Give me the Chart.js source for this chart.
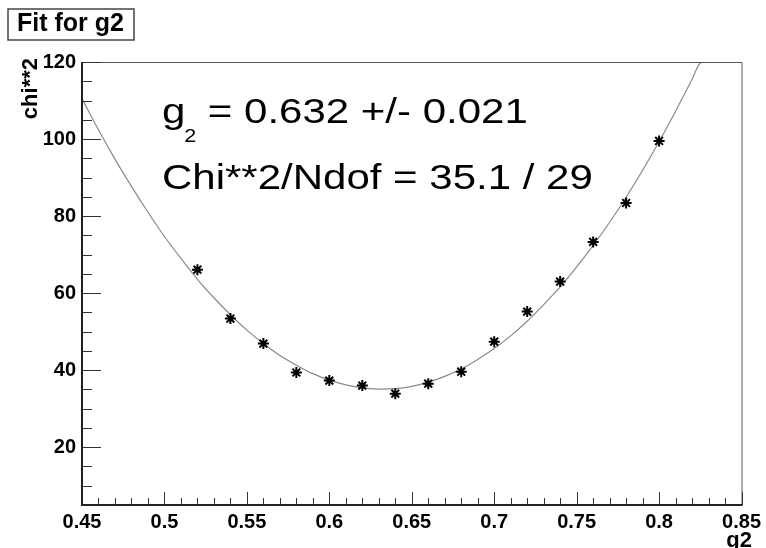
<!DOCTYPE html>
<html>
<head>
<meta charset="utf-8">
<script src="https://cdn.jsdelivr.net/npm/chart.js@4/dist/chart.umd.min.js"></script>
<style>
  html, body { margin: 0; padding: 0; background: #fff; }
  canvas { display: block; }
</style>
</head>
<body>
<canvas id="c" width="766" height="548"></canvas>
<script>
// scan points
const scanX = [0.52, 0.54, 0.56, 0.58, 0.60, 0.62, 0.64, 0.66, 0.68, 0.70, 0.72, 0.74, 0.76, 0.78, 0.80];
const scanY = [66.1, 53.4, 46.9, 39.4, 37.3, 36.0, 33.9, 36.5, 39.6, 47.4, 55.2, 63.0, 73.3, 83.4, 99.5];

// fitted curve
const fitX = [0.45, 0.46, 0.47, 0.48, 0.49, 0.50, 0.51, 0.52, 0.53, 0.54, 0.55, 0.56, 0.57, 0.58, 0.59,
              0.60, 0.61, 0.62, 0.63, 0.64, 0.65, 0.66, 0.67, 0.68, 0.69, 0.70, 0.71, 0.72, 0.73, 0.74,
              0.75, 0.76, 0.77, 0.78, 0.79, 0.80, 0.81, 0.82, 0.825, 0.83];
const fitY = [110.5, 102.4, 94.8, 87.7, 81.0, 74.7, 69.0, 63.6, 58.8, 54.4, 50.4, 46.9, 43.8, 41.3, 39.1,
              37.4, 36.2, 35.4, 35.1, 35.2, 35.8, 36.9, 38.4, 40.3, 42.8, 45.6, 48.9, 52.7, 57.0, 61.6,
              66.8, 72.4, 78.4, 84.9, 91.9, 99.3, 107.2, 115.5, 119.8, 120.0];

const xTicks = [0.45, 0.5, 0.55, 0.6, 0.65, 0.7, 0.75, 0.8, 0.85];
const xTickLabels = ["0.45", "0.5", "0.55", "0.6", "0.65", "0.7", "0.75", "0.8", "0.85"];
const yTicks = [20, 40, 60, 80, 100, 120];
const yTickLabels = ["20", "40", "60", "80", "100", "120"];

const FONT = "'Liberation Sans', Arial, Helvetica, sans-serif";

// ROOT-style frame, inward ticks, titles and the fit text box
const rootDecor = {
  id: "rootDecor",
  afterDraw(chart) {
    const ctx = chart.ctx;
    const a = chart.chartArea;
    const xs = chart.scales.x, ys = chart.scales.y;
    ctx.save();

    // frame
    ctx.strokeStyle = "#555";
    ctx.lineWidth = 1;
    ctx.beginPath();
    ctx.moveTo(a.left, a.top + 0.5); ctx.lineTo(a.right + 0.5, a.top + 0.5);
    ctx.lineTo(a.right + 0.5, a.bottom);
    ctx.stroke();

    // minor + major ticks
    ctx.strokeStyle = "#333";
    ctx.lineWidth = 1;
    ctx.beginPath();
    for (let v = 5; v <= 120.001; v += 5) {
      const y = Math.round(ys.getPixelForValue(v)) + 0.5;
      const major = Math.abs(v % 20) < 0.01;
      ctx.moveTo(a.left, y); ctx.lineTo(a.left + (major ? 19 : 10), y);
    }
    for (let i = 0; i <= 40; i++) {
      const v = 0.45 + i * 0.01;
      const x = Math.round(xs.getPixelForValue(v)) + 0.5;
      const major = i % 5 === 0;
      ctx.moveTo(x, a.bottom); ctx.lineTo(x, a.bottom - (major ? 13 : 7));
    }
    ctx.stroke();

    // axis lines
    ctx.strokeStyle = "#222";
    ctx.lineWidth = 2;
    ctx.beginPath();
    ctx.moveTo(a.left, a.top); ctx.lineTo(a.left, a.bottom);
    ctx.lineTo(a.right + 1, a.bottom);
    ctx.stroke();

    // title box
    ctx.fillStyle = "#fff";
    ctx.fillRect(8, 9, 126, 31);
    ctx.strokeStyle = "#444";
    ctx.lineWidth = 1.5;
    ctx.strokeRect(8, 9, 126, 31);
    ctx.fillStyle = "#000";
    ctx.font = "bold 25px " + FONT;
    ctx.textBaseline = "alphabetic";
    ctx.textAlign = "left";
    ctx.fillText("Fit for g2", 17, 31);

    // y axis title
    ctx.save();
    ctx.translate(37, 58);
    ctx.rotate(-Math.PI / 2);
    ctx.textAlign = "right";
    ctx.font = "bold 22px " + FONT;
    ctx.fillText("chi**2", 0, 0);
    ctx.restore();

    // x axis title
    ctx.textAlign = "right";
    ctx.font = "bold 22px " + FONT;
    ctx.fillText("g2", 752, 547);

    // fit result text
    ctx.textAlign = "left";
    ctx.save();
    ctx.translate(162, 123);
    ctx.scale(1.2, 1);
    ctx.font = "35px " + FONT;
    ctx.fillText("g", 0, 0);
    let w = ctx.measureText("g").width - 1;
    ctx.font = "18px " + FONT;
    ctx.fillText("2", w, 19);
    w += ctx.measureText("2").width;
    ctx.font = "35px " + FONT;
    ctx.fillText(" = 0.632 +/- 0.021", w, 0);
    ctx.restore();

    ctx.save();
    ctx.translate(162, 189);
    ctx.scale(1.2, 1);
    ctx.font = "35px " + FONT;
    ctx.fillText("Chi**2/Ndof = 35.1 / 29", 0, 0);
    ctx.restore();

    ctx.restore();
  }
};

new Chart(document.getElementById("c"), {
  type: "scatter",
  data: {
    datasets: [
      {
        label: "scan",
        data: scanX.map((x, i) => ({ x: x, y: scanY[i] })),
        showLine: false,
        pointStyle: "star",
        pointRadius: 5.5,
        pointBorderWidth: 2,
        pointBorderColor: "#000",
        pointBackgroundColor: "#000"
      },
      {
        label: "fit",
        data: fitX.map((x, i) => ({ x: x, y: fitY[i] })),
        showLine: true,
        pointRadius: 0,
        borderColor: "#8a8a8a",
        borderWidth: 1.2,
        tension: 0.3,
        clip: 0
      }
    ]
  },
  options: {
    responsive: false,
    animation: false,
    devicePixelRatio: 1,
    layout: { padding: { left: 0, top: 62, right: 21, bottom: 0 } },
    plugins: { legend: { display: false }, tooltip: { enabled: false } },
    scales: {
      x: {
        type: "linear",
        min: 0.45, max: 0.85,
        grid: { display: false, drawTicks: false, tickLength: 0 },
        border: { display: false },
        afterBuildTicks: s => { s.ticks = xTicks.map(v => ({ value: v })); },
        afterFit: s => { s.height = 43; },
        ticks: {
          autoSkip: false, maxRotation: 0, padding: 5,
          color: "#000",
          font: { family: FONT, size: 20, weight: "bold" },
          callback: (v) => xTickLabels[xTicks.findIndex(t => Math.abs(t - v) < 1e-6)]
        }
      },
      y: {
        type: "linear",
        min: 5, max: 120,
        grid: { display: false, drawTicks: false, tickLength: 0 },
        border: { display: false },
        afterBuildTicks: s => { s.ticks = yTicks.map(v => ({ value: v })); },
        afterFit: s => { s.width = 82; },
        ticks: {
          autoSkip: false, padding: 6,
          color: "#000",
          font: { family: FONT, size: 20, weight: "bold" },
          callback: (v) => yTickLabels[yTicks.indexOf(v)]
        }
      }
    }
  },
  plugins: [rootDecor]
});
</script>
</body>
</html>
